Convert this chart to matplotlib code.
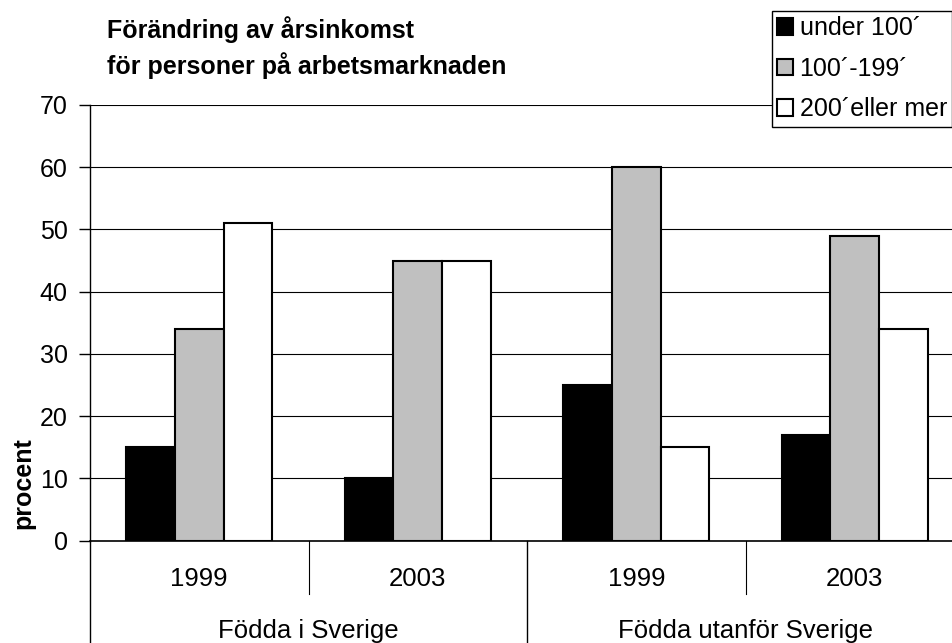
import matplotlib
matplotlib.use('Agg')
import matplotlib.pyplot as plt
import numpy as np

plt.rcParams['font.family'] = ['Liberation Sans', 'DejaVu Sans']

# data
years = ['1999', '2003', '1999', '2003']
groups = ['Födda i Sverige', 'Födda utanför Sverige']
series_names = ['under 100´', '100´-199´', '200´eller mer']
under100 = [15, 10, 25, 17]
mid100_199 = [34, 45, 60, 49]
over200 = [51, 45, 15, 34]
series_colors = ['black', '#c0c0c0', 'white']

W, H = 952, 643
fig = plt.figure(figsize=(W / 100, H / 100), dpi=100)

# axes in pixel coords (right edge runs past the image like the original)
left, right, top, bottom = 90, 964, 105, 540.5
ax = fig.add_axes([left / W, 1 - bottom / H, (right - left) / W, (bottom - top) / H])

x = np.arange(len(years))
bw = 0.222
for i, vals in enumerate([under100, mid100_199, over200]):
    ax.bar(x + (i - 1) * bw, vals, bw, color=series_colors[i], edgecolor='black',
           linewidth=1.5, label=series_names[i], zorder=3)

ax.set_xlim(-0.5, 3.5)
ax.set_ylim(0, 70)
ax.set_yticks(range(0, 71, 10))
ax.tick_params(axis='y', labelsize=18, length=8, width=1, pad=8, direction='out')
ax.set_xticks([])
ax.yaxis.grid(True, color='black', linewidth=0.8, zorder=0)
for s in ['top', 'right']:
    ax.spines[s].set_visible(False)
ax.spines['left'].set_linewidth(1)
ax.spines['bottom'].set_linewidth(1.2)
ax.spines['bottom'].set_zorder(4)

# category axis: year labels and separators
trans = ax.get_xaxis_transform()
ax_h = bottom - top
for xi, lab in zip(x, years):
    ax.text(xi, -(586 - bottom) / ax_h, lab, transform=trans, ha='center', va='baseline', fontsize=18.5)
for gx, lab in zip([0.5, 2.5], groups):
    ax.text(gx, -(638 - bottom) / ax_h, lab, transform=trans, ha='center', va='baseline', fontsize=18.5)
for sx in [0.5, 2.5]:
    ax.plot([sx, sx], [0, -(594 - bottom) / ax_h], transform=trans, color='black',
            linewidth=0.8, clip_on=False)
for sx in [-0.5, 1.5, 3.5]:
    ax.plot([sx, sx], [0, -(H + 5 - bottom) / ax_h], transform=trans, color='black',
            linewidth=1, clip_on=False)

fig.text(23 / W, 1 - 483 / H, 'procent', rotation=90, ha='center', va='center',
         fontsize=18, fontweight='bold')

fig.text(107 / W, 1 - 30 / H, 'Förändring av årsinkomst', ha='left', va='center',
         fontsize=18, fontweight='bold')
fig.text(107 / W, 1 - 66 / H, 'för personer på arbetsmarknaden', ha='left', va='center',
         fontsize=18, fontweight='bold')

leg = fig.legend(loc='upper left', bbox_to_anchor=(772 / W, 1 - 11 / H), borderaxespad=0,
                 fontsize=18, frameon=True, fancybox=False, edgecolor='black',
                 handlelength=0.65, handleheight=0.65, handletextpad=0.25,
                 labelspacing=0.67, borderpad=0.2, framealpha=1)
leg.get_frame().set_linewidth(1)

fig.savefig('out.png', dpi=100)
